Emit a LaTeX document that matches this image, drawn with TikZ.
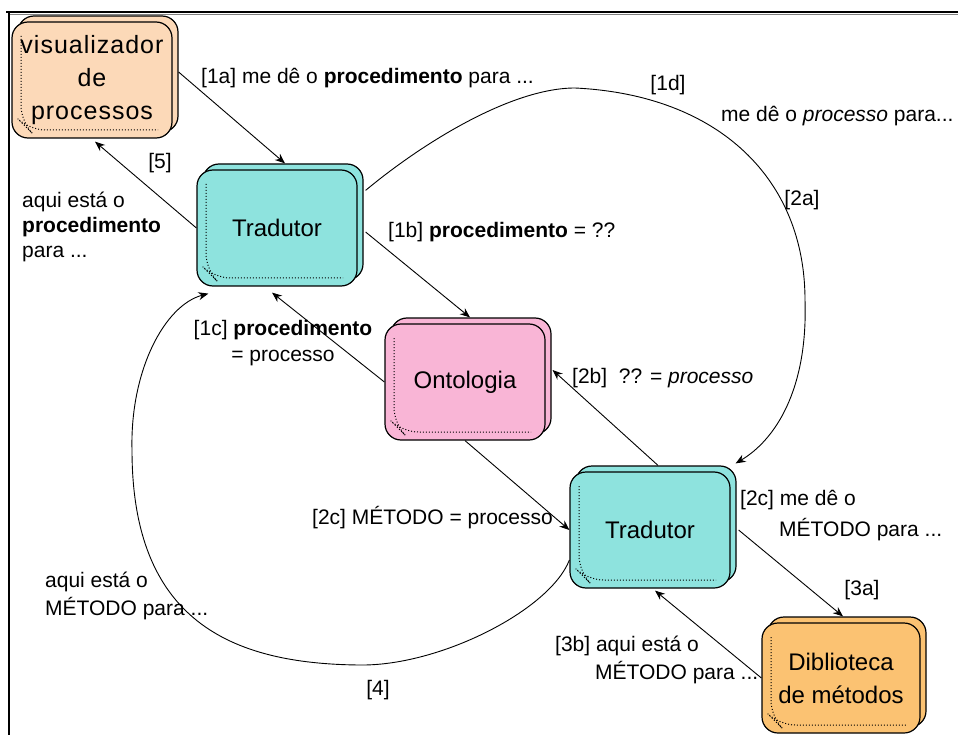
\documentclass[tikz,border=0pt]{standalone}
\usepackage{fontspec}
\setmainfont{Liberation Sans}
\newfontfamily\widesans[LetterSpace=4]{Liberation Sans}
\usetikzlibrary{arrows.meta,shadows}

\definecolor{peach}{HTML}{FCD9B8}
\definecolor{aqua}{HTML}{8EE3DE}
\definecolor{rose}{HTML}{F9B5D6}
\definecolor{amber}{HTML}{FBC272}

\tikzset{
  unitbox/.style={draw, line width=1.2pt, rounded corners=16pt,
    minimum width=160pt, minimum height=116pt, inner sep=0pt,
    align=center, font=\fontsize{24}{33}\selectfont,
    copy shadow={shadow xshift=6pt, shadow yshift=6pt},
    path picture={\draw[black, dotted, line width=1pt]
      ([shift={(9pt,-14pt)}]path picture bounding box.north west)
      -- ([shift={(9pt,16pt)}]path picture bounding box.south west)
      -- ([shift={(17pt,8pt)}]path picture bounding box.south west)
      -- ([shift={(-14pt,8pt)}]path picture bounding box.south east);}},
  lbl/.style={font=\fontsize{21}{26}\selectfont, inner sep=0pt},
  flow/.style={line width=0.9pt, -{Stealth[length=10pt,width=8pt]}}
}

\begin{document}
\begin{tikzpicture}[x=1pt, y=-1pt]
  \useasboundingbox (0,0) rectangle (958,735);
  \fill[white] (0,0) rectangle (958,735);

  % window frame
  \draw[line width=2pt] (6,12.5) -- (958,12.5);
  \draw[gray, line width=1pt] (8,15) -- (958,15);
  \draw[line width=1.2pt] (9,13) -- (9,735);

  % components
  \node[unitbox, fill=peach, font=\widesans\fontsize{25}{33}\selectfont] (vis) at (92,80) {visualizador\\de\\processos};
  \node[unitbox, fill=aqua] (T1) at (277,228) {Tradutor};
  \node[unitbox, fill=rose] (Ont) at (465,382) {Ontologia};
  \node[unitbox, fill=aqua] (T2) at (650,530) {Tradutor};
  \node[unitbox, fill=amber, minimum height=110pt, minimum width=158pt] (Bib) at (841,678) {Diblioteca\\de métodos};

  % messages
  \draw[flow] ([xshift=6pt,yshift=8pt]vis.east) -- ([xshift=8pt,yshift=6pt]T1.north);
  \draw[flow] (T1.west) -- ([xshift=3pt,yshift=-3pt]vis.south);
  \draw[flow] ([xshift=8pt,yshift=-4pt]T1.east) -- ([xshift=5pt,yshift=6pt]Ont.north);
  \draw[flow] (Ont.west) -- ([xshift=-5pt,yshift=-6pt]T1.south);
  \draw[flow] ([xshift=8pt,yshift=-21pt]T1.north east)
    .. controls (420,145) and (510,88) .. (575,88)
    .. controls (720,95) and (805,180) .. (805,300)
    .. controls (808,390) and (775,440) .. ([xshift=5pt,yshift=8pt]T2.north east);
  \draw[flow] ([xshift=8pt,yshift=6pt]T2.north) -- ([xshift=7pt,yshift=12pt]Ont.east);
  \draw[flow] (Ont.south) -- (T2.west);
  \draw[flow] ([xshift=8pt]T2.east) -- ([xshift=2pt,yshift=6pt]Bib.north);
  \draw[flow] (Bib.west) -- ([xshift=5pt,yshift=-2pt]T2.south);
  \draw[flow] ([yshift=-30pt]T2.west)
    .. controls (550,610) and (440,666) .. (360,665)
    .. controls (230,664) and (132,620) .. (132,450)
    .. controls (130,370) and (165,305) .. ([xshift=12pt,yshift=-7pt]T1.south west);

  % message labels
  \node[lbl, anchor=west] (l1a) at (201,78) {[1a] me dê o \textbf{procedimento} para ...};
  \node[lbl] (l5) at (160,163) {[5]};
  \node[lbl, anchor=north west, align=left, font=\fontsize{21}{25}\selectfont] (l5b) at (22,192)
    {aqui está o\\\textbf{procedimento}\\para ...};
  \node[lbl] (l1d) at (668,85) {[1d]};
  \node[lbl, anchor=west] (l1dm) at (721,116) {me dê o \textit{processo} para...};
  \node[lbl] (l2a) at (802,200) {[2a]};
  \node[lbl, anchor=west] (l1b) at (388,232) {[1b] \textbf{procedimento} = ??};
  \node[lbl, align=center] (l1c) at (283,343) {[1c] \textbf{procedimento}\\= processo};
  \node[lbl, anchor=west] (l2b) at (572,378) {[2b]\ \ ?? = \textit{processo}};
  \node[lbl, anchor=west] (l2c) at (312,518) {[2c] MÉTODO = processo};
  \node[lbl, anchor=west] (l2d) at (740,500) {[2c] me dê o};
  \node[lbl, anchor=west] (l2e) at (779,530) {MÉTODO para ...};
  \node[lbl] (l3a) at (862,590) {[3a]};
  \node[lbl, anchor=west] (l3b) at (555,646) {[3b] aqui está o};
  \node[lbl, anchor=west] (l3c) at (595,673) {MÉTODO para ...};
  \node[lbl, anchor=north west, align=left, font=\fontsize{21}{28}\selectfont] (l4a) at (45,572)
    {aqui está o\\MÉTODO para ...};
  \node[lbl] (l4) at (378,690) {[4]};
\end{tikzpicture}
\end{document}
